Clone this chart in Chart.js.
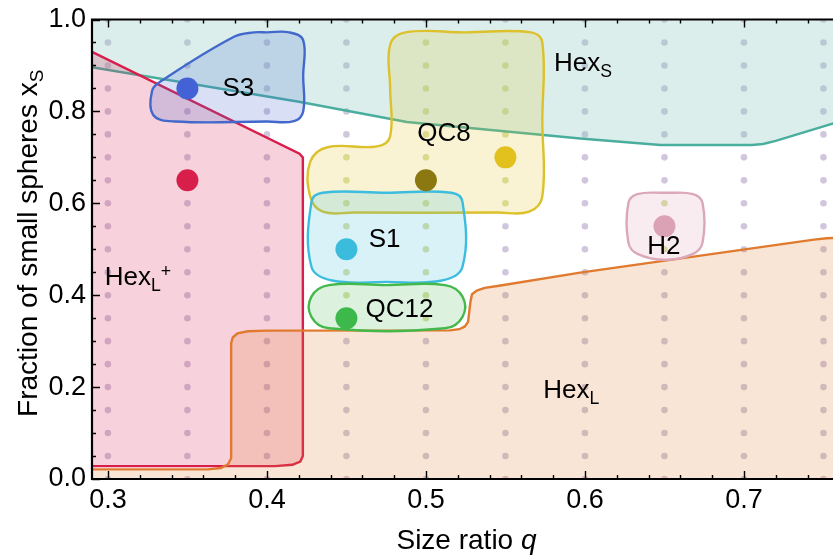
<!DOCTYPE html>
<html>
<head>
<meta charset="utf-8">
<script src="https://cdn.jsdelivr.net/npm/chart.js@4.4.1/dist/chart.umd.min.js"></script>
<style>
  html, body { margin: 0; padding: 0; background: #fff; }
  #wrap { width: 833px; height: 560px; }
</style>
</head>
<body>
<div id="wrap"><canvas id="phase"></canvas></div>
<script>
// lattice of simulated state points
const gridQ = [0.30, 0.35, 0.40, 0.45, 0.50, 0.55, 0.60, 0.65, 0.70, 0.75];
const gridXs = [0.00, 0.05, 0.10, 0.15, 0.20, 0.25, 0.30, 0.35, 0.40, 0.45, 0.50,
                0.55, 0.60, 0.65, 0.70, 0.75, 0.80, 0.85, 0.90, 0.95, 1.00];

// phase boundaries [q, xS]
const hexSBoundary = [[0.285, 0.899], [0.421, 0.8205], [0.488, 0.777], [0.597, 0.741],
  [0.6475, 0.727], [0.705, 0.727], [0.712, 0.729], [0.72, 0.736], [0.76, 0.778]];
const hexLPlusBoundary = [[0.285, 0.938], [0.4205, 0.708], [0.4226, 0.700], [0.4226, 0.050],
  [0.421, 0.038], [0.416, 0.031], [0.405, 0.028], [0.285, 0.028]];
const hexLBoundary = [[0.285, 0.021], [0.363, 0.021], [0.371, 0.024], [0.3755, 0.032],
  [0.3775, 0.045], [0.3775, 0.295], [0.3785, 0.308], [0.3815, 0.317], [0.388, 0.3215],
  [0.40, 0.3228], [0.515, 0.3235], [0.521, 0.326], [0.5245, 0.332], [0.5265, 0.342],
  [0.528, 0.386], [0.529, 0.402], [0.532, 0.41], [0.537, 0.416], [0.545, 0.42],
  [0.597, 0.449], [0.744, 0.521], [0.752, 0.524], [0.76, 0.525]];

// stability islands
const s3Shape = [[0.400, 0.972], [0.414, 0.972], [0.4228, 0.955], [0.4228, 0.877], [0.4228, 0.800],
  [0.417, 0.779], [0.400, 0.778], [0.342, 0.778], [0.3285, 0.792], [0.3278, 0.845], [0.3335, 0.866],
  [0.379, 0.962], [0.392, 0.972], [0.400, 0.972]];
const qc8Shape = [[0.525, 0.972], [0.566, 0.972], [0.5732, 0.950], [0.5732, 0.780], [0.5732, 0.615],
  [0.565, 0.582], [0.545, 0.580], [0.455, 0.580], [0.435, 0.582], [0.4272, 0.615], [0.4272, 0.690],
  [0.438, 0.722], [0.4695, 0.724], [0.4775, 0.746], [0.4775, 0.850], [0.4775, 0.945], [0.487, 0.972],
  [0.525, 0.972]];
const s1Shape = [[0.475, 0.623], [0.516, 0.623], [0.523, 0.603], [0.523, 0.462], [0.510, 0.432],
  [0.475, 0.429], [0.441, 0.432], [0.428, 0.462], [0.428, 0.603], [0.435, 0.623], [0.475, 0.623]];
const qc12Shape = [[0.475, 0.422], [0.512, 0.422], [0.523, 0.397], [0.523, 0.353], [0.512, 0.328],
  [0.439, 0.328], [0.428, 0.353], [0.428, 0.397], [0.439, 0.422], [0.475, 0.422]];
const h2Shape = [[0.6506, 0.623], [0.668, 0.620], [0.674, 0.600], [0.674, 0.515], [0.668, 0.490],
  [0.6506, 0.477], [0.633, 0.490], [0.6273, 0.515], [0.6273, 0.600], [0.633, 0.620], [0.6506, 0.623]];

// marked state points
const stateQ = [0.35, 0.35, 0.50, 0.55, 0.45, 0.45, 0.65];
const stateXs = [0.85, 0.65, 0.65, 0.70, 0.50, 0.35, 0.55];
const stateColors = ['#4262d6', '#d81e4a', '#8c7810', '#e2c11e', '#3cbcdc', '#3db94b', '#dba1b4'];

// axis ticks
const xMajor = [0.3, 0.4, 0.5, 0.6, 0.7];
const xTicks = [0.30, 0.32, 0.34, 0.36, 0.38, 0.40, 0.42, 0.44, 0.46, 0.48, 0.50, 0.52, 0.54,
  0.56, 0.58, 0.60, 0.62, 0.64, 0.66, 0.68, 0.70, 0.72, 0.74];
const yMajor = [0.0, 0.2, 0.4, 0.6, 0.8, 1.0];
const yTicks = [0.00, 0.05, 0.10, 0.15, 0.20, 0.25, 0.30, 0.35, 0.40, 0.45, 0.50,
  0.55, 0.60, 0.65, 0.70, 0.75, 0.80, 0.85, 0.90, 0.95, 1.00];

// region labels
const labelParts = [[['S3']], [['QC8']], [['Hex'], ['S', 'sub']], [['S1']], [['QC12']], [['H2']],
  [['Hex'], ['L', 'sub'], ['+', 'sup']], [['Hex'], ['L', 'sub']]];
const labelQ = [0.372, 0.4945, 0.5805, 0.464, 0.462, 0.6392, 0.298, 0.5738];
const labelXs = [0.834, 0.735, 0.888, 0.5043, 0.3534, 0.4892, 0.4224, 0.1767];

const FONT = '"Liberation Sans", Arial, sans-serif';
const pts = arr => arr.map(p => ({x: p[0], y: p[1]}));

function inside(q, xs, poly) {
  let c = false;
  for (let i = 0, j = poly.length - 1; i < poly.length; j = i++) {
    const [xi, yi] = poly[i], [xj, yj] = poly[j];
    if ((yi > xs) !== (yj > xs) && q < (xj - xi) * (xs - yi) / (yj - yi) + xi) c = !c;
  }
  return c;
}

const lattice = [];
const latticeColors = [];
gridQ.forEach(q => gridXs.forEach(xs => {
  lattice.push({x: q, y: xs});
  const hot = [qc8Shape, s1Shape, qc12Shape, h2Shape].some(s => inside(q, xs, s));
  latticeColors.push(hot ? 'rgba(200,205,115,0.65)' : 'rgba(150,130,180,0.45)');
}));

function region(data, line, fill, mode, tension, order) {
  return {
    data: pts(data), showLine: true, borderColor: line, backgroundColor: fill,
    borderWidth: 2.4, fill: mode, tension: tension, pointRadius: 0, order: order
  };
}

function drawRich(ctx, x, y, parts, size) {
  let cx = x;
  parts.forEach(([t, kind]) => {
    const small = kind === 'sub' || kind === 'sup';
    ctx.font = (kind === 'it' ? 'italic ' : '') + (small ? size * 0.68 : size) + 'px ' + FONT;
    const dy = kind === 'sub' ? size * 0.22 : kind === 'sup' ? -size * 0.32 : 0;
    ctx.fillText(t, cx, y + dy);
    cx += ctx.measureText(t).width;
  });
  return cx - x;
}

const overlay = {
  id: 'overlay',
  afterDatasetsDraw(chart) {
    const {ctx, scales: {x, y}} = chart;
    ctx.save();
    ctx.fillStyle = '#000';
    ctx.textBaseline = 'alphabetic';
    labelParts.forEach((p, i) => {
      drawRich(ctx, x.getPixelForValue(labelQ[i]), y.getPixelForValue(labelXs[i]), p, 26);
    });
    ctx.restore();
  },
  afterDraw(chart) {
    const {ctx, chartArea: a, scales: {x, y}} = chart;
    ctx.save();
    ctx.strokeStyle = '#000';
    ctx.lineWidth = 1.4;
    ctx.beginPath();
    xTicks.forEach(v => {
      const px = Math.round(x.getPixelForValue(v)) + 0.5;
      const len = xMajor.some(m => Math.abs(m - v) < 1e-9) ? 8 : 4;
      ctx.moveTo(px, a.bottom); ctx.lineTo(px, a.bottom - len);
      ctx.moveTo(px, a.top); ctx.lineTo(px, a.top + len);
    });
    yTicks.forEach(v => {
      const py = Math.round(y.getPixelForValue(v)) + 0.5;
      const len = yMajor.some(m => Math.abs(m - v) < 1e-9) ? 8 : 4;
      ctx.moveTo(a.left, py); ctx.lineTo(a.left + len, py);
    });
    ctx.stroke();
    ctx.lineWidth = 2.2;
    ctx.beginPath();
    ctx.moveTo(a.right + 2, a.top); ctx.lineTo(a.left, a.top);
    ctx.lineTo(a.left, a.bottom); ctx.lineTo(a.right + 2, a.bottom);
    ctx.stroke();

    // axis titles
    ctx.fillStyle = '#000';
    ctx.textBaseline = 'alphabetic';
    const T = 28;
    ctx.font = T + 'px ' + FONT;
    const wq = ctx.measureText('Size ratio ').width;
    ctx.font = 'italic ' + T + 'px ' + FONT;
    const wx = wq + ctx.measureText('q').width;
    drawRich(ctx, (a.left + a.right) / 2 + 4 - wx / 2, 549, [['Size ratio '], ['q', 'it']], T);

    ctx.font = T + 'px ' + FONT;
    let wy = ctx.measureText('Fraction of small spheres x').width;
    ctx.font = (T * 0.68) + 'px ' + FONT;
    wy += ctx.measureText('S').width;
    ctx.translate(37, (a.top + a.bottom) / 2 - 6);
    ctx.rotate(-Math.PI / 2);
    drawRich(ctx, -wy / 2, 0, [['Fraction of small spheres x'], ['S', 'sub']], T);
    ctx.restore();
  }
};

new Chart(document.getElementById('phase'), {
  type: 'scatter',
  data: {
    datasets: [
      {data: stateQ.map((q, i) => ({x: q, y: stateXs[i]})), backgroundColor: stateColors,
       pointRadius: 11, pointBorderWidth: 0, order: 1},
      region(h2Shape, '#dba8bb', 'rgba(215,150,175,0.18)', 'shape', 0.4, 2),
      region(qc12Shape, '#44b84a', 'rgba(61,185,75,0.18)', 'shape', 0.4, 3),
      region(s1Shape, '#3cbde0', 'rgba(60,188,220,0.2)', 'shape', 0.4, 4),
      region(qc8Shape, '#dcc12a', 'rgba(225,195,40,0.2)', 'shape', 0.4, 5),
      region(s3Shape, '#4268cc', 'rgba(65,100,210,0.2)', 'shape', 0.4, 6),
      region(hexLBoundary, '#e07a2e', 'rgba(225,125,45,0.2)', 'start', 0, 7),
      region(hexLPlusBoundary, '#d81e4a', 'rgba(215,30,80,0.2)', 'shape', 0, 8),
      region(hexSBoundary, '#4aae9f', 'rgba(140,200,190,0.3)', 'end', 0, 9),
      {data: lattice, backgroundColor: latticeColors, pointRadius: 3.3, pointBorderWidth: 0, order: 10}
    ]
  },
  options: {
    responsive: true,
    maintainAspectRatio: false,
    animation: false,
    layout: {autoPadding: false, padding: {top: 15, right: 0, bottom: 0, left: 0}},
    plugins: {legend: {display: false}, tooltip: {enabled: false}},
    scales: {
      x: {
        type: 'linear', min: 0.29, max: 0.756,
        grid: {display: false, drawTicks: false}, border: {display: false},
        afterBuildTicks: s => { s.ticks = xMajor.map(v => ({value: v})); },
        afterFit: s => { s.height = 81; },
        ticks: {padding: 8, color: '#000', font: {size: 27, family: FONT, lineHeight: 1},
                autoSkip: false, maxRotation: 0, callback: v => v.toFixed(1)}
      },
      y: {
        type: 'linear', min: 0, max: 1,
        grid: {display: false, drawTicks: false}, border: {display: false},
        afterBuildTicks: s => { s.ticks = yMajor.map(v => ({value: v})); },
        afterFit: s => { s.width = 92; },
        ticks: {padding: 6, color: '#000', font: {size: 27, family: FONT, lineHeight: 1},
                autoSkip: false, callback: v => v.toFixed(1)}
      }
    }
  },
  plugins: [overlay]
});
</script>
</body>
</html>
